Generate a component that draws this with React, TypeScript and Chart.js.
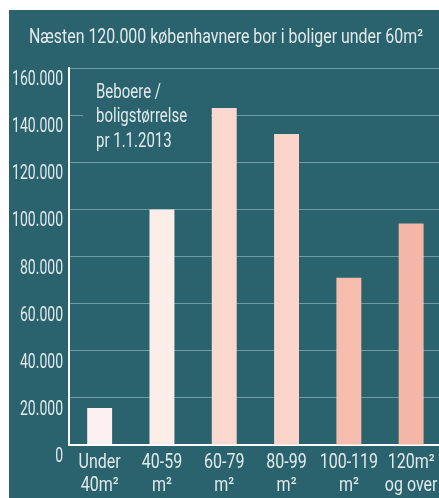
import { useEffect, useRef } from "react";
import { Chart, registerables } from "chart.js";

Chart.register(...registerables);

const TITLE = "Næsten 120.000 københavnere bor i boliger under 60m²";
const NOTE_LINES = ["Beboere /", "boligstørrelse", "pr 1.1.2013"];
const CATEGORIES = [
  ["Under", "40m²"],
  ["40-59", "m²"],
  ["60-79", "m²"],
  ["80-99", "m²"],
  ["100-119", "m²"],
  ["120m²", "og over"],
];
const RESIDENTS = [15700, 100000, 143000, 132000, 71000, 94000];
const BAR_COLORS = ["#fcf1f0", "#fdede9", "#fcd9d0", "#fbd4ca", "#f6bdae", "#f4b6a6"];
const Y_MAX = 160000;
const Y_STEP = 20000;

const TEAL = "#2a636e";
const TEXT = "#e2eaec";
const FONT = "Roboto, 'Noto Sans', sans-serif";

const fmt = (v: number) => String(v).replace(/\B(?=(\d{3})+(?!\d))/g, ".");

// draws real text, horizontally condensed to imitate the narrow newspaper face
function drawText(ctx: CanvasRenderingContext2D, text: string, x: number, y: number, align: CanvasTextAlign, sx: number) {
  ctx.save();
  ctx.translate(x, y);
  ctx.scale(sx, 1);
  ctx.textAlign = align;
  ctx.fillText(text, 0, 0);
  ctx.restore();
}

const overlayPlugin = {
  id: "overlay",
  beforeDatasetsDraw(chart: any) {
    const ctx = chart.ctx;
    ctx.save();
    ctx.fillStyle = TEAL;
    ctx.fillRect(74, 65, 128, 77);
    ctx.restore();
  },
  afterDraw(chart: any) {
    const ctx: CanvasRenderingContext2D = chart.ctx;
    ctx.save();
    ctx.fillStyle = TEXT;
    ctx.textBaseline = "alphabetic";

    // title, fitted to its width in the reference
    ctx.font = `20px ${FONT}`;
    const tw = ctx.measureText(TITLE).width;
    drawText(ctx, TITLE, 20, 33, "left", 394 / tw);

    // note
    NOTE_LINES.forEach((line, i) => drawText(ctx, line, 87, 88 + i * 24.3, "left", 0.75));

    // y tick labels
    const ys = chart.scales.y;
    ys.ticks.forEach((t: any) => {
      const py = ys.getPixelForValue(t.value);
      drawText(ctx, fmt(t.value), ys.right - 5.5, py + 17, "right", 0.7);
    });

    // x tick labels
    const xs = chart.scales.x;
    CATEGORIES.forEach((lines, i) => {
      const px = xs.getPixelForTick(i);
      drawText(ctx, lines[0], px, xs.top + 23, "center", 0.8);
      drawText(ctx, lines[1], px, xs.top + 46, "center", 0.8);
    });
    ctx.restore();
  },
};

export default function App() {
  const ref = useRef<HTMLCanvasElement | null>(null);

  useEffect(() => {
    if (!ref.current) return;
    const chart = new Chart(ref.current, {
      type: "bar",
      data: {
        labels: CATEGORIES,
        datasets: [
          {
            data: RESIDENTS,
            backgroundColor: BAR_COLORS,
            borderWidth: 0,
            categoryPercentage: 1,
            barPercentage: 0.4,
          },
        ],
      },
      options: {
        animation: false,
        responsive: false,
        devicePixelRatio: 1,
        layout: { padding: { top: 58, right: 2.7, bottom: 0, left: 0 } },
        plugins: {
          legend: { display: false },
          tooltip: { enabled: false },
          title: { display: false },
        },
        scales: {
          x: {
            offset: true,
            grid: { display: false, drawTicks: false },
            border: { display: true, color: "#ffffff", width: 2 },
            ticks: { display: false, autoSkip: false },
            afterFit: (s: any) => {
              s.height = 53;
            },
          },
          y: {
            min: 0,
            max: Y_MAX,
            grid: { color: "rgba(200,225,230,0.45)", lineWidth: 1, drawTicks: false },
            border: { display: true, color: "#ffffff", width: 2 },
            ticks: { stepSize: Y_STEP, display: false },
            afterFit: (s: any) => {
              s.width = 59.5;
            },
          },
        },
      },
      plugins: [overlayPlugin],
    });
    return () => chart.destroy();
  }, []);

  return (
    <div
      style={{
        position: "fixed",
        left: 0,
        top: 0,
        width: 439,
        height: 498,
        overflow: "hidden",
        background: "#ffffff",
      }}
    >
      <div
        style={{
          position: "absolute",
          left: 9,
          top: 10,
          width: 440,
          height: 488,
          background: TEAL,
        }}
      >
        <canvas ref={ref} width={436} height={488} style={{ display: "block" }} />
      </div>
    </div>
  );
}
